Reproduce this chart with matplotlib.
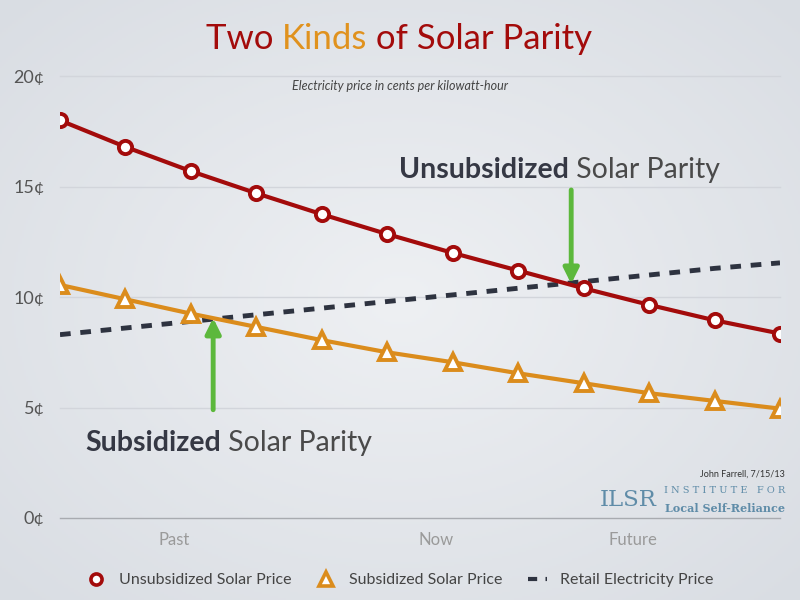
import numpy as np
import matplotlib
matplotlib.use("Agg")
from matplotlib import pyplot as plt
from matplotlib.lines import Line2D

plt.rcParams['font.family'] = ['Lato', 'DejaVu Sans']

# data (cents per kWh), 12 evenly spaced periods
periods = list(range(12))
unsubsidized = [18.0, 16.8, 15.7, 14.7, 13.75, 12.85, 12.0, 11.2, 10.4, 9.65, 8.95, 8.35]
subsidized = [10.55, 9.9, 9.25, 8.65, 8.05, 7.5, 7.05, 6.55, 6.1, 5.65, 5.3, 4.95]
retail = [8.3, 8.6, 8.9, 9.2, 9.5, 9.8, 10.1, 10.4, 10.7, 11.0, 11.3, 11.55]

y_ticks = [0, 5, 10, 15, 20]
x_label_pos = [1.75, 5.75, 8.75]
x_labels = ['Past', 'Now', 'Future']

RED = '#a30b0b'
ORANGE = '#db8c1c'
NAVY = '#2e3340'
GREEN = '#5cb83c'
LOGO = '#5f8ca8'

fig = plt.figure(figsize=(8, 6), dpi=100)

# soft slide-like background
bg = fig.add_axes([0, 0, 1, 1], zorder=-10)
yy, xx = np.mgrid[-1:1:300j, -1:1:400j]
r = np.sqrt(xx ** 2 + yy ** 2)
bg.imshow(r, cmap=matplotlib.colors.LinearSegmentedColormap.from_list(
    'bg', ['#eef0f3', '#d9dde3']), aspect='auto', extent=[0, 1, 0, 1])
bg.axis('off')

ax = fig.add_axes([0.075, 0.1367, 0.9, 0.7363])
ax.set_facecolor('none')

ax.plot(periods, retail, color=NAVY, lw=3.5, ls=(0, (2.2, 2.0)), zorder=2)
ax.plot(periods, unsubsidized, color=RED, lw=3, marker='o', ms=9.5,
        mfc='white', mec=RED, mew=2.8, zorder=3)
ax.plot(periods, subsidized, color=ORANGE, lw=3, marker='^', ms=11,
        mfc='white', mec=ORANGE, mew=2.8, zorder=3)

ax.set_xlim(0, 11)
ax.set_ylim(0, 20)
ax.set_yticks(y_ticks)
ax.set_yticklabels([f'{v}¢' for v in y_ticks])
ax.set_xticks(x_label_pos)
ax.set_xticklabels(x_labels)
ax.tick_params(axis='y', length=0, pad=11, labelsize=13, labelcolor='#555555')
ax.tick_params(axis='x', length=0, pad=10, labelsize=12, labelcolor='#9a9a9a')
for s in ax.spines.values():
    s.set_visible(False)
for v in y_ticks[1:]:
    ax.axhline(v, color='#d2d5db', lw=1, zorder=1, clip_on=False)
ax.axhline(0, color='#a8abb0', lw=1, zorder=1, clip_on=False)

# parity arrows
ax.annotate('', xy=(7.81, 10.6), xytext=(7.81, 14.85),
            arrowprops=dict(arrowstyle='-|>,head_width=0.45,head_length=0.9',
                            color=GREEN, lw=3.5, shrinkA=0, shrinkB=0))
ax.annotate('', xy=(2.34, 9.05), xytext=(2.34, 4.9),
            arrowprops=dict(arrowstyle='-|>,head_width=0.45,head_length=0.9',
                            color=GREEN, lw=3.5, shrinkA=0, shrinkB=0))

t1 = ax.text(5.18, 15.4, 'Unsubsidized', fontsize=20.5, fontweight='bold',
             color='#353844', va='baseline')
ax.annotate(' Solar Parity', xy=(1, 0), xycoords=t1, va='bottom', ha='left',
            fontsize=20.5, color='#4a4a4a')
t2 = ax.text(0.38, 3.05, 'Subsidized', fontsize=20.5, fontweight='bold',
             color='#353844', va='baseline')
ax.annotate(' Solar Parity', xy=(1, 0), xycoords=t2, va='bottom', ha='left',
            fontsize=20.5, color='#4a4a4a')

# title in three colours
tt = fig.text(0.257, 0.935, 'Two ', fontsize=25, color=RED, va='center')
tk = fig.text(0, 0.935, 'Kinds', fontsize=25, color='#e0921e', va='center')
ta = fig.text(0, 0.935, ' of Solar Parity', fontsize=25, color=RED, va='center')
fig.canvas.draw()
rend = fig.canvas.get_renderer()
tk.set_x(tt.get_window_extent(rend).x1 / 800)
ta.set_x(tk.get_window_extent(rend).x1 / 800)

fig.text(0.5, 0.857, 'Electricity price in cents per kilowatt-hour', fontsize=9,
         style='italic', color='#444444', ha='center', va='center')

# credit and logo
fig.text(0.981, 0.21, 'John Farrell, 7/15/13', fontsize=6.5, color='#333333',
         ha='right', va='center')
fig.text(0.75, 0.167, 'ILSR', fontsize=16.5, color=LOGO, family='DejaVu Serif',
         ha='left', va='center')
fig.text(0.981, 0.182, 'I N S T I T U T E   F O R', fontsize=7, color=LOGO,
         family='DejaVu Serif', ha='right', va='center')
fig.text(0.981, 0.153, 'Local Self-Reliance', fontsize=8, color=LOGO,
         family='DejaVu Serif', fontweight='bold', ha='right', va='center')

handles = [
    Line2D([], [], ls='none', marker='o', ms=8, mfc='white', mec=RED, mew=2.6),
    Line2D([], [], ls='none', marker='^', ms=10, mfc='white', mec=ORANGE, mew=2.6),
    Line2D([], [], color=NAVY, lw=3, ls=(0, (2.2, 2.0))),
]
fig.legend(handles, ['Unsubsidized Solar Price', 'Subsidized Solar Price',
                     'Retail Electricity Price'],
           loc='center', bbox_to_anchor=(0.5, 0.033), ncol=3, frameon=False,
           fontsize=11.5, handlelength=1.2, handletextpad=0.8, columnspacing=1.6,
           labelcolor='#444444')

fig.savefig('out.png', dpi=100)
